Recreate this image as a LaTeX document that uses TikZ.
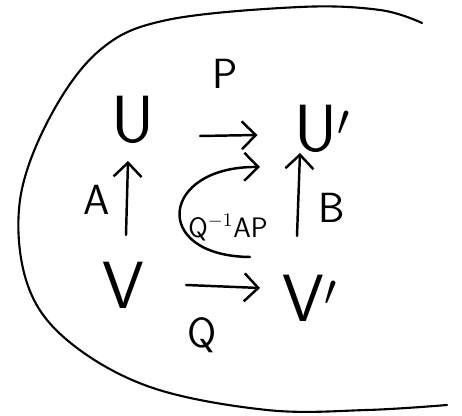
\documentclass[tikz,border=0pt]{standalone}
\usepackage{tikz}
\usetikzlibrary{arrows.meta, positioning, calc}
\tikzstyle{arrow} = [-{Straight Barb[length=2.8mm, width=5.6mm]}, line width=1.4pt, line cap=round]

\begin{document}
\begin{tikzpicture}[
  space/.style={inner sep=1pt, font=\fontsize{38}{40}\selectfont\sffamily},
  maplabel/.style={font=\fontsize{24}{26}\selectfont\sffamily},
  smalllabel/.style={font=\fontsize{16}{18}\selectfont\sffamily}
]
\useasboundingbox (0,0) rectangle (9.24,8.32);

% Outer curve
\draw[line width=1.2pt, line cap=round] plot[smooth, tension=0.6] coordinates {
  (8.44,7.86) (7.6,8.12) (6.0,8.18) (3.34,7.92) (2.0,7.32) (1.0,5.98)
  (0.4,4.32) (0.54,2.66) (1.34,1.52) (3.0,0.58) (5.34,0.12) (7.34,0.12) (8.94,0.22)};

% Spaces
\node[space] (U)  at (2.66,5.92) {U};
\node[space] (U2) at (6.45,5.75) {U$'$};
\node[space] (V)  at (2.46,2.62) {V};
\node[space] (V2) at (6.2,2.36) {V$'$};

% Horizontal maps
\draw[arrow] (4.0,5.6) coordinate (pstart) -- (5.15,5.62) coordinate (pend);
\node[maplabel] (P) at (4.5,6.85) {P};
\draw[arrow] (3.72,2.62) coordinate (qstart) -- (5.2,2.56) coordinate (qend);
\node[maplabel] (Q) at (4.04,1.62) {Q};

% Vertical maps
\draw[arrow] ($(V)+(0.06,1.0)$) coordinate (astart) -- ($(U)+(-0.1,-0.82)$) coordinate (aend);
\node[maplabel] (A) at (1.94,4.32) {A};
\draw[arrow] ($(V2)+(-0.26,1.24)$) coordinate (bstart) -- ($(U2)+(-0.45,-0.49)$) coordinate (bend);
\node[maplabel] (B) at (6.64,4.16) {B};

% Composite
\coordinate (cstart) at (5.0,3.18);
\coordinate (cend) at (5.2,4.98);
\draw[arrow] (cstart) .. controls (3.0,3.2) and (3.2,5.0) .. (cend);
\node[smalllabel] (C) at (4.56,3.76) {Q$^{-1}$AP};

\end{tikzpicture}
\end{document}
